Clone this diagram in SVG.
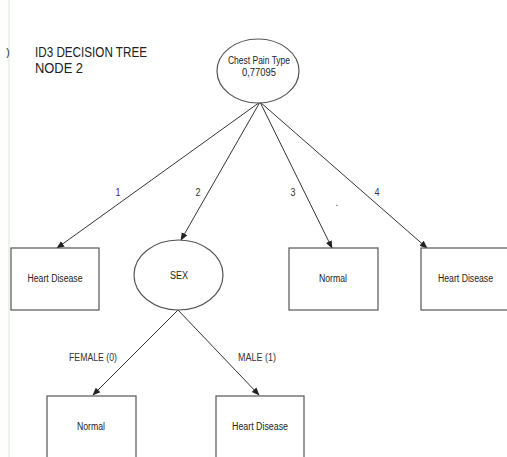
<svg xmlns="http://www.w3.org/2000/svg" width="507" height="457" viewBox="0 0 507 457">
<style>
.n{fill:#fff;stroke:#555;stroke-width:1.2}
.t{font-family:"Liberation Sans",Arial,sans-serif;font-size:10px;fill:#222;text-anchor:middle}
.e{stroke:#333;stroke-width:1;fill:none;marker-end:url(#a)}
.l{font-family:"Liberation Sans",Arial,sans-serif;font-size:10px;fill:#333;text-anchor:middle}
.h{font-family:"Liberation Sans",Arial,sans-serif;font-size:14px;fill:#222}
</style>
<defs>
<marker id="a" viewBox="0 0 10 10" refX="9" refY="5" markerWidth="8" markerHeight="8" markerUnits="userSpaceOnUse" orient="auto">
<path d="M0,1 L10,5 L0,9 Z" fill="#222"/>
</marker>
</defs>
<rect width="507" height="457" fill="#fff"/>
<line x1="9" y1="0" x2="9" y2="457" stroke="#e6ece6" stroke-width="1.5"/>
<text x="8" y="56" class="t" font-size="9">)</text>
<g id="title">
<text class="h" x="35" y="57" textLength="112" lengthAdjust="spacingAndGlyphs">ID3 DECISION TREE</text>
<text class="h" x="35" y="73" textLength="48" lengthAdjust="spacingAndGlyphs">NODE 2</text>
</g>
<g id="connectors">
<line class="e" x1="260" y1="102" x2="57" y2="248"/>
<line class="e" x1="260" y1="102" x2="181" y2="240"/>
<line class="e" x1="260" y1="102" x2="332" y2="248"/>
<line class="e" x1="260" y1="102" x2="427" y2="248"/>
<line class="e" x1="178" y1="310" x2="93" y2="395"/>
<line class="e" x1="178" y1="310" x2="259" y2="395"/>
<text class="l" x="118" y="196" textLength="5" lengthAdjust="spacingAndGlyphs">1</text>
<text class="l" x="198" y="196" textLength="5" lengthAdjust="spacingAndGlyphs">2</text>
<text class="l" x="293" y="196" textLength="5" lengthAdjust="spacingAndGlyphs">3</text>
<text class="l" x="377" y="196" textLength="5" lengthAdjust="spacingAndGlyphs">4</text>
<text class="l" x="337" y="206">.</text>
<text class="l" x="93" y="361" textLength="48" lengthAdjust="spacingAndGlyphs">FEMALE (0)</text>
<text class="l" x="257" y="361" textLength="38" lengthAdjust="spacingAndGlyphs">MALE (1)</text>
</g>
<g id="root">
<ellipse class="n" cx="258" cy="71" rx="41" ry="32"/>
<text class="t" x="259" y="64" textLength="62" lengthAdjust="spacingAndGlyphs">Chest Pain Type</text>
<text class="t" x="259" y="76" textLength="34" lengthAdjust="spacingAndGlyphs">0,77095</text>
</g>
<g id="leaf1">
<rect class="n" x="11" y="248" width="88" height="62"/>
<text class="t" x="55" y="282" textLength="55" lengthAdjust="spacingAndGlyphs">Heart Disease</text>
</g>
<g id="sex">
<ellipse class="n" cx="178.5" cy="275" rx="44.5" ry="35"/>
<text class="t" x="179" y="278.5" textLength="18" lengthAdjust="spacingAndGlyphs">SEX</text>
</g>
<g id="leaf3">
<rect class="n" x="289" y="248" width="89" height="62"/>
<text class="t" x="333" y="282" textLength="28" lengthAdjust="spacingAndGlyphs">Normal</text>
</g>
<g id="leaf4">
<rect class="n" x="421" y="248" width="90" height="62"/>
<text class="t" x="465.5" y="282" textLength="55" lengthAdjust="spacingAndGlyphs">Heart Disease</text>
</g>
<g id="leafF">
<rect class="n" x="47" y="396" width="89" height="66"/>
<text class="t" x="91" y="430" textLength="28" lengthAdjust="spacingAndGlyphs">Normal</text>
</g>
<g id="leafM">
<rect class="n" x="216" y="396" width="88" height="66"/>
<text class="t" x="260" y="430" textLength="56" lengthAdjust="spacingAndGlyphs">Heart Disease</text>
</g>
</svg>
